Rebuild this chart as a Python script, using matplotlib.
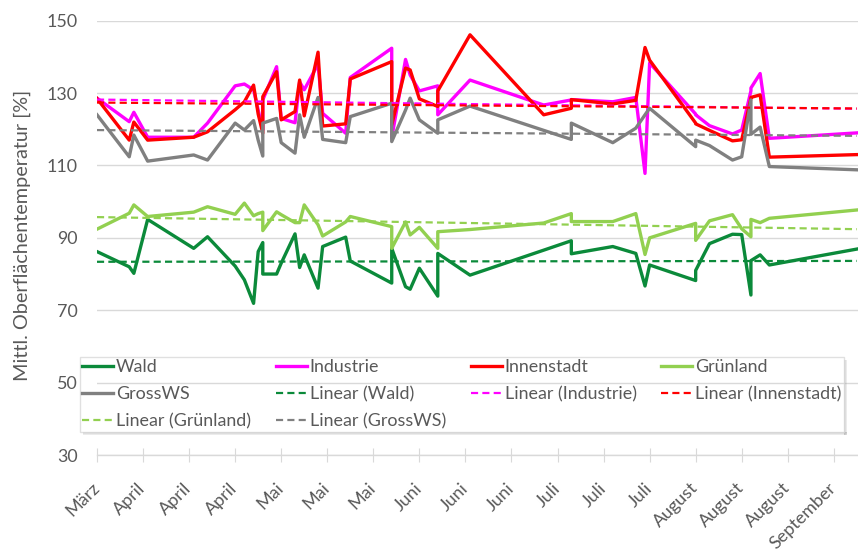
import numpy as np
import pandas as pd
import matplotlib
matplotlib.use("Agg")
import matplotlib.pyplot as plt
from matplotlib.patches import Rectangle
from matplotlib.transforms import IdentityTransform

# Observation dates (pairs on the same day give vertical steps)
dates = ["2019-03-25", "2019-04-01", "2019-04-02", "2019-04-05", "2019-04-15", "2019-04-18",
         "2019-04-24", "2019-04-26", "2019-04-28", "2019-04-29", "2019-04-30", "2019-04-30",
         "2019-05-03", "2019-05-04", "2019-05-07", "2019-05-08", "2019-05-09", "2019-05-12",
         "2019-05-13", "2019-05-18", "2019-05-19", "2019-05-28", "2019-05-28", "2019-05-31",
         "2019-06-01", "2019-06-03", "2019-06-07", "2019-06-07", "2019-06-14", "2019-06-30",
         "2019-07-06", "2019-07-06", "2019-07-15", "2019-07-20", "2019-07-22", "2019-07-23",
         "2019-08-02", "2019-08-02", "2019-08-05", "2019-08-10", "2019-08-12", "2019-08-14",
         "2019-08-14", "2019-08-16", "2019-08-18", "2019-09-06"]

wald = [86.2, 82.0, 80.2, 95.1, 87.1, 90.3, 82.2, 78.4, 71.9, 86.2, 88.7, 80.0,
        80.0, 83.0, 91.1, 81.8, 85.3, 76.1, 87.6, 90.2, 83.6, 77.5, 87.1, 76.5,
        75.8, 81.6, 73.9, 85.7, 79.7, 86.6, 89.2, 85.6, 87.6, 85.7, 76.7, 82.5,
        78.2, 81.0, 88.4, 91.0, 90.9, 74.2, 83.7, 85.3, 82.5, 86.9]

industrie = [128.6, 122.1, 124.7, 117.8, 117.8, 121.7, 132.0, 132.5, 130.9, 125.3, 119.8, 128.1,
             137.3, 123.0, 121.8, 133.1, 130.9, 138.0, 124.4, 118.9, 134.3, 142.4, 117.6, 139.3,
             135.0, 130.6, 132.0, 124.0, 133.6, 126.7, 128.1, 128.2, 127.6, 128.8, 107.8, 138.3,
             124.2, 124.0, 121.0, 118.7, 119.8, 130.6, 131.4, 135.4, 117.5, 119.0]

innenstadt = [128.5, 117.0, 122.0, 117.0, 117.8, 119.3, 125.4, 127.6, 132.2, 124.2, 118.9, 129.0,
              135.9, 122.6, 124.9, 133.6, 123.7, 141.3, 120.9, 121.5, 133.9, 138.7, 121.2, 136.9,
              136.4, 128.4, 126.3, 130.6, 146.1, 124.0, 125.8, 128.2, 127.0, 128.0, 142.6, 139.1,
              121.7, 121.5, 119.7, 116.8, 117.1, 128.6, 128.8, 129.5, 112.3, 113.0]

gruenland = [92.4, 96.8, 99.1, 95.9, 97.1, 98.6, 96.5, 99.6, 96.1, 96.7, 97.1, 92.0,
             97.2, 96.4, 94.2, 94.2, 99.1, 93.6, 90.5, 94.4, 95.9, 93.1, 87.1, 94.4,
             90.8, 92.9, 87.1, 91.7, 92.3, 94.1, 96.7, 94.5, 94.5, 96.7, 85.4, 90.0,
             94.0, 89.3, 94.7, 96.4, 92.5, 90.3, 95.1, 94.2, 95.4, 97.7]

grossws = [124.0, 112.4, 118.4, 111.2, 112.9, 111.5, 121.7, 119.8, 122.4, 117.0, 112.6, 121.7,
           123.0, 116.3, 113.4, 124.0, 117.8, 128.8, 117.2, 116.3, 123.5, 127.2, 116.6, 125.3,
           128.6, 122.6, 118.9, 122.6, 126.4, 119.7, 117.2, 121.7, 116.3, 120.3, 124.0, 125.8,
           115.2, 117.0, 115.5, 111.5, 112.4, 128.1, 118.6, 120.6, 109.7, 108.8]

series_names = ["Wald", "Industrie", "Innenstadt", "Grünland", "GrossWS"]
series_colors = ["#0B8A3A", "#FF00FF", "#FF0000", "#92D050", "#808080"]

tick_labels = ["März", "April", "April", "April", "Mai", "Mai", "Mai", "Juni", "Juni", "Juni",
               "Juli", "Juli", "Juli", "August", "August", "August", "September"]
y_ticks = [30, 50, 70, 90, 110, 130, 150]
y_label = "Mittl. Oberflächentemperatur [%]"

plt.rcParams['font.family'] = ['Lato', 'DejaVu Sans']
TXT = "#595959"
GRID = "#D9D9D9"

W, H = 858, 552
fig = plt.figure(figsize=(W / 100, H / 100), dpi=100)
renderer = fig.canvas.get_renderer()


def text_width(s, size):
    t = fig.text(0, 0, s, fontsize=size)
    w = t.get_window_extent(renderer).width
    t.remove()
    return w


# font sizes chosen so that the text runs to the intended pixel widths
tick_fs = 13.0 * 31.0 / text_width("150", 13.0)
ylab_fs = 13.0 * 292.0 / text_width(y_label, 13.0)
leg_fs = 13.0 * 146.0 / text_width("Linear (Innenstadt)", 13.0)

ax = fig.add_axes([97 / W, 97 / H, 761 / W, 434.3 / H])

x = pd.to_datetime(dates)
xnum = (x - x[0]).days.values.astype(float)

all_values = [wald, industrie, innenstadt, gruenland, grossws]
solid, trend = [], []
for name, vals, col in zip(series_names, all_values, series_colors):
    h, = ax.plot(x, vals, color=col, lw=2.4, label=name, zorder=3)
    solid.append(h)
for name, vals, col in zip(series_names, all_values, series_colors):
    k, d = np.polyfit(xnum, vals, 1)
    ends = np.array([xnum[0], xnum[-1]])
    h, = ax.plot(x[[0, -1]], k * ends + d, color=col, lw=1.6, dashes=(3.2, 1.9),
                 label=f"Linear ({name})", zorder=4)
    trend.append(h)

ax.set_ylim(30, 150)
ax.set_yticks(y_ticks)
ax.set_xlim(x[0], x[-1] + pd.Timedelta(hours=6))
tick_pos = pd.date_range(x[0], periods=len(tick_labels), freq="10D")
ax.set_xticks(tick_pos)
ax.set_xticklabels(tick_labels, rotation=45, ha="right", va="center",
                   rotation_mode="anchor", color=TXT, fontsize=tick_fs)
ax.tick_params(axis="x", direction="inout", length=10, width=0.8, color=GRID, pad=17)
ax.tick_params(axis="y", length=0, pad=14, labelcolor=TXT, labelsize=tick_fs)
ax.grid(axis="y", color=GRID, lw=1.0, zorder=0)
for s in ["top", "left", "right"]:
    ax.spines[s].set_visible(False)
ax.spines["bottom"].set_color(GRID)
ax.spines["bottom"].set_linewidth(1.0)
ax.set_axisbelow(True)

fig.text(22 / W, 1 - 235 / H, y_label, rotation=90, ha="center", va="center",
         color=TXT, fontsize=ylab_fs)

# legend filled column-wise so rows read left to right
order_h = [solid[0], solid[4], trend[3], solid[1], trend[0], trend[4],
           solid[2], trend[1], solid[3], trend[2]]
order_l = [h.get_label() for h in order_h]
fs_px = leg_fs * 100 / 72
handle_len, text_pad = 1.75, 0.15
col_w = [max(text_width(order_l[i], leg_fs) for i in idx)
         for idx in ([0, 1, 2], [3, 4, 5], [6, 7])]
col_gap = 193.0 - (handle_len + text_pad) * fs_px - np.mean(col_w)

leg = fig.legend(order_h, order_l, ncol=4, loc="upper left",
                 bbox_to_anchor=(80 / W, 1 - 357 / H), fontsize=leg_fs, frameon=True,
                 fancybox=False, handlelength=handle_len, handletextpad=text_pad,
                 columnspacing=col_gap / fs_px, labelspacing=0.62, borderpad=0.12,
                 borderaxespad=0)
for t in leg.get_texts():
    t.set_color(TXT)
fr = leg.get_frame()
fr.set_facecolor("none")
fr.set_edgecolor(GRID)
fr.set_linewidth(1.0)

fig.canvas.draw()
bb = fr.get_window_extent()
for off, a in [(1, 0.35), (2, 0.25), (3, 0.15)]:
    fig.add_artist(Rectangle((bb.x0 + 3, bb.y0 - off), bb.width, 1, transform=IdentityTransform(),
                             facecolor="#7F7F7F", edgecolor="none", alpha=a))
    fig.add_artist(Rectangle((bb.x1 + off - 1, bb.y0 - 3), 1, bb.height, transform=IdentityTransform(),
                             facecolor="#7F7F7F", edgecolor="none", alpha=a))

fig.savefig("out.png", dpi=100)
